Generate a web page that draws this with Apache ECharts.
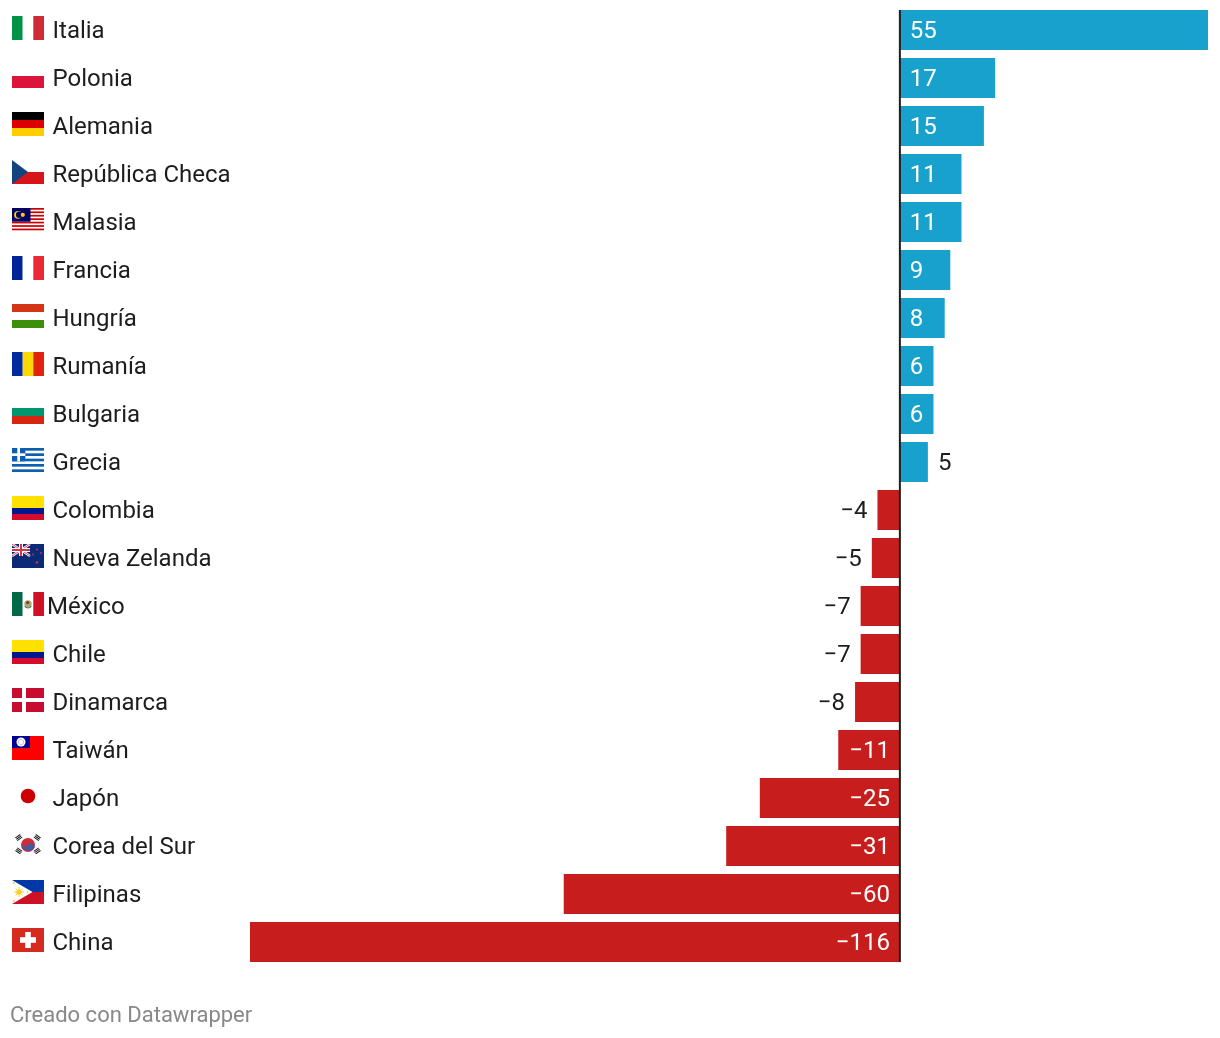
<!DOCTYPE html>
<html lang="es">
<head>
<meta charset="utf-8">
<style>html,body{margin:0;padding:0;background:#fff}#c{width:1220px;height:1038px}</style>
<script src="https://cdn.jsdelivr.net/npm/echarts@6/dist/echarts.min.js"></script>
</head>
<body>
<div id="c"></div>
<script>
const countries = ['Italia','Polonia','Alemania','República Checa','Malasia','Francia','Hungría','Rumanía','Bulgaria','Grecia','Colombia','Nueva Zelanda','México','Chile','Dinamarca','Taiwán','Japón','Corea del Sur','Filipinas','China'];
const values = [55,17,15,11,11,9,8,6,6,5,-4,-5,-7,-7,-8,-11,-25,-31,-60,-116];
const BLUE = '#18a1cd', RED = '#c71e1d', INK = '#1d1d1d';
const LABEL_INSIDE_MIN = 6;   // smaller bars carry their number outside
const NEG_LABEL_INSIDE_MIN = 11;

const r = (x,y,w,h,f) => `<rect x="${x}" y="${y}" width="${w}" height="${h}" fill="${f}"/>`;
const tri3v = (a,b,c) => r(0,0,10.7,24,a)+r(10.7,0,10.6,24,b)+r(21.3,0,10.7,24,c);
const tri3h = (a,b,c) => r(0,0,32,8,a)+r(0,8,32,8,b)+r(0,16,32,8,c);
const hemisphere = r(0,0,32,12,'#ffe100')+r(0,12,32,6,'#00188f')+r(0,18,32,6,'#d60a2c');
function malaysia(){let s='';for(let i=0;i<7;i++)s+=r(0,i*3.43,32,1.71,'#cc0001');
 return s+r(0,0,18.5,13.7,'#010066')+'<circle cx="6" cy="6.8" r="3.9" fill="#ffcc00"/><circle cx="7.2" cy="6.8" r="3.2" fill="#010066"/><circle cx="10.8" cy="6.8" r="2.1" fill="#ffcc00"/>';}
function greece(){let s='';for(let i=0;i<5;i++)s+=r(0,i*5.33,32,2.67,'#0d5eaf');
 return s+r(0,0,13.3,13.3,'#0d5eaf')+r(5.3,0,2.67,13.3,'#fff')+r(0,5.3,13.3,2.67,'#fff');}
const nz = r(0,0,32,24,'#0a2a78')
 +'<path d="M0 0L18 12M18 0L0 12" stroke="#fff" stroke-width="2.4"/><path d="M0 0L18 12M18 0L0 12" stroke="#d8324a" stroke-width="0.9"/>'
 +r(7,0,4,12,'#fff')+r(0,4,18,4,'#fff')+r(8,0,2,12,'#d8324a')+r(0,5,18,2,'#d8324a')
 +'<g fill="#d8324a"><circle cx="25" cy="5.5" r="1"/><circle cx="21" cy="10.5" r="0.9"/><circle cx="29" cy="9" r="0.9"/><circle cx="25" cy="18.5" r="1.2"/></g>';
const mexico = r(0,0,10.7,24,'#006847')+r(10.7,0,10.6,24,'#fff')+r(21.3,0,10.7,24,'#ce1126')
 +'<circle cx="16" cy="12" r="3.7" fill="#b9a27c"/><circle cx="15.6" cy="10.6" r="1.6" fill="#6b4a2a"/><path d="M12.8 14a3.6 3.6 0 0 0 6.4 0" stroke="#3c8f55" stroke-width="1.1" fill="none"/>';
const taiwan = r(0,0,32,24,'#fe0000')+r(0,0,18,12,'#000095')+'<circle cx="9" cy="6" r="4.5" fill="#fff"/><circle cx="9" cy="6" r="2.8" fill="#a8a8e0"/><circle cx="9" cy="6" r="2.2" fill="#fff"/>';
const bars = (x,y,ang) => { let s=`<g transform="translate(${x} ${y}) rotate(${ang})">`;
 for(let i=0;i<3;i++) s+=r(-3,-2.2+i*1.6,6,1,'#1a1a1a'); return s+'</g>'; };
const korea = r(0,0,32,24,'#fff')
 +'<circle cx="16" cy="13" r="7" fill="#cd2e3a"/><path d="M9.7 10.2a7 7 0 0 0 12.6 5.6a3.5 3.5 0 0 0-6.3-2.8a3.5 3.5 0 0 1-6.3-2.8z" fill="#3f5a9e"/>'
 +bars(6.8,5.6,-35)+bars(25.2,5.6,35)+bars(6.8,19,35)+bars(25.2,19,-35);
const phil = r(0,0,32,12,'#0038a8')+r(0,12,32,12,'#ce1126')+'<path d="M0 0L20.5 12L0 24z" fill="#fff"/>'
 +'<circle cx="7" cy="12" r="2.6" fill="#fcd116"/><path d="M7 7V17M2 12H12M3.5 8.5L10.5 15.5M10.5 8.5L3.5 15.5" stroke="#fcd116" stroke-width="0.9"/>'
 +'<g fill="#fcd116"><circle cx="1.8" cy="3" r="0.9"/><circle cx="1.8" cy="21" r="0.9"/><circle cx="15.5" cy="12" r="0.9"/></g>';
const flagArt = {
 'Italia': tri3v('#009246','#fff','#ce2b37'),
 'Polonia': r(0,12,32,12,'#dc143c'),
 'Alemania': tri3h('#000','#dd0000','#ffce00'),
 'República Checa': r(0,12,32,12,'#d7141a')+'<path d="M0 0L16 12L0 24z" fill="#11457e"/>',
 'Malasia': malaysia(),
 'Francia': tri3v('#002395','#fff','#ed2939'),
 'Hungría': tri3h('#d43516','#fff','#3d8e0a'),
 'Rumanía': tri3v('#002b9f','#fcd800','#e0220f'),
 'Bulgaria': r(0,8,32,8,'#00966e')+r(0,16,32,8,'#d62612'),
 'Grecia': greece(),
 'Colombia': hemisphere,
 'Nueva Zelanda': nz,
 'México': mexico,
 'Chile': hemisphere,
 'Dinamarca': r(0,0,32,24,'#c60c30')+r(10,0,4,24,'#fff')+r(0,10,32,4,'#fff'),
 'Taiwán': taiwan,
 'Japón': '<circle cx="16" cy="12" r="7.3" fill="#cc0000"/>',
 'Corea del Sur': korea,
 'Filipinas': phil,
 'China': r(0,0,32,24,'#d52b1e')+r(13.2,4,5.6,16,'#fff')+r(8,9.2,16,5.6,'#fff')
};
const flagUri = name => 'data:image/svg+xml;charset=utf-8,' + encodeURIComponent(
 `<svg xmlns="http://www.w3.org/2000/svg" width="32" height="24" viewBox="0 0 32 24">${flagArt[name]}</svg>`);

const fmt = v => (v < 0 ? '\u2212' : '') + Math.abs(v);
const isInside = v => v > 0 ? v >= LABEL_INSIDE_MIN : -v >= NEG_LABEL_INSIDE_MIN;
const barData = values.map((v) => {
  const inside = isInside(v);
  return {
    value: v,
    itemStyle: { color: v > 0 ? BLUE : RED },
    label: {
      show: true, formatter: fmt(v), distance: 10, offset: [0, 2],
      position: inside ? (v > 0 ? 'insideLeft' : 'insideRight') : (v > 0 ? 'right' : 'left'),
      color: inside ? '#fff' : INK
    }
  };
});

const BAR_H = 40;
const chart = echarts.init(document.getElementById('c'), null, { renderer: 'canvas' });
chart.setOption({
  animation: false,
  backgroundColor: '#fff',
  textStyle: { fontFamily: 'Roboto' },
  grid: { left: 250, right: 12, top: 6, height: 960, containLabel: false },
  xAxis: { type: 'value', min: -116, max: 55, show: false },
  yAxis: {
    type: 'category', inverse: true, data: countries,
    axisLine: { show: false, onZero: false }, axisTick: { show: false }, splitLine: { show: false },
    axisLabel: {
      align: 'left', margin: 203, interval: 0, color: INK, fontFamily: 'Roboto', fontSize: 24,
      formatter: n => n === 'México' ? `{t|${n}}` : `{s|${n}}`,
      rich: {
        t: { fontFamily: 'Roboto', fontSize: 24, color: INK, padding: [4, 0, 0, 0] },
        s: { fontFamily: 'Roboto', fontSize: 24, color: INK, padding: [4, 0, 0, 5.5] }
      }
    }
  },
  series: [
    { type: 'bar', data: barData, barWidth: BAR_H,
      label: { fontFamily: 'Roboto', fontSize: 24 } },
    { type: 'custom', silent: true, z: 5,
      data: countries.map((n, i) => [0, i]),
      renderItem: (p, api) => {
        const y = api.coord([0, api.value(1)])[1];
        return { type: 'image', style: { image: flagUri(countries[p.dataIndex]), x: 12, y: y - 14, width: 32, height: 24 } };
      } },
    { type: 'custom', silent: true, z: 6,
      data: [[0, 0, countries.length - 1]],
      renderItem: (p, api) => {
        const a = api.coord([0, api.value(1)]), b = api.coord([0, api.value(2)]);
        return { type: 'line', shape: { x1: a[0], y1: a[1] - BAR_H / 2, x2: b[0], y2: b[1] + BAR_H / 2 },
                 style: { stroke: INK, lineWidth: 2 } };
      } }
  ],
  graphic: [{ type: 'text', left: 10, top: 1005,
    style: { text: 'Creado con Datawrapper', fill: '#888', font: '22px Roboto' } }]
});
</script>
</body>
</html>
